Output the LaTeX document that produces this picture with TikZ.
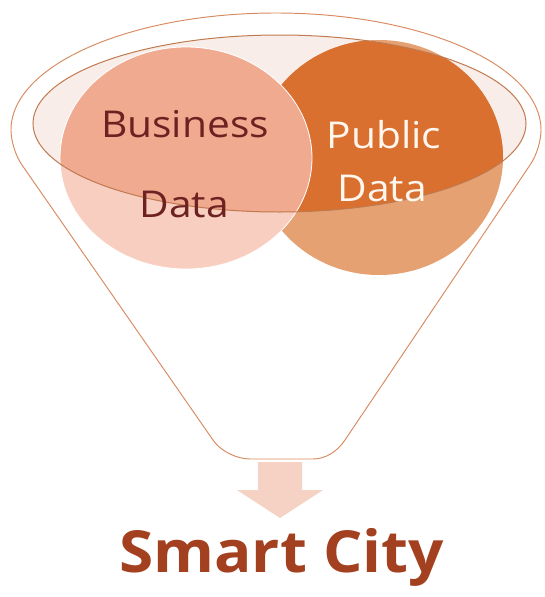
\documentclass[tikz,border=0pt]{standalone}
\usepackage{fontspec}
\setmainfont{Open Sans}
\newfontfamily\labelfont[FakeStretch=1.1]{Open Sans}
\newfontfamily\titlefont[FakeStretch=1.07]{Open Sans}
\definecolor{bizIn}{HTML}{F0AA8F}
\definecolor{bizOut}{HTML}{F7CEBF}
\definecolor{pubIn}{HTML}{D9702F}
\definecolor{pubOut}{HTML}{E5A171}
\definecolor{ellFill}{HTML}{F9EDE9}
\definecolor{funnelLine}{HTML}{D98B60}
\definecolor{rimLine}{HTML}{C07A50}
\definecolor{bizText}{HTML}{6E2121}
\definecolor{pubText}{HTML}{FFF6EE}
\definecolor{titleText}{HTML}{A3401F}
\definecolor{arrowFill}{HTML}{F6D2C5}
\tikzset{
  bizlabel/.style={anchor=base, text=bizText, font=\labelfont\fontsize{37}{40}\selectfont, inner sep=0pt},
  publabel/.style={anchor=base, text=pubText, font=\labelfont\fontsize{37}{40}\selectfont, inner sep=0pt},
  titlelabel/.style={anchor=base, text=titleText, font=\titlefont\bfseries\fontsize{58}{62}\selectfont, inner sep=0pt},
  outline/.style={draw=funnelLine, line width=0.95pt},
  rim/.style={draw=rimLine, line width=1pt}
}
\begin{document}
\begin{tikzpicture}[x=1pt,y=-1pt]
\useasboundingbox (0,0) rectangle (544,597);
\fill[white] (0,0) rectangle (544,597);
% rim interior
\fill[ellFill] (279.5,123.5) ellipse [x radius=246.5pt, y radius=88.5pt];
% circles, parts outside rim
\fill[pubOut] (379,157.5) ellipse [x radius=124pt, y radius=117.5pt];
\fill[bizOut, draw=white, line width=0.8pt] (186,158) ellipse [x radius=126pt, y radius=111pt];
% circles, parts inside rim
\begin{scope}
  \clip (279.5,123.5) ellipse [x radius=246.5pt, y radius=88.5pt];
  \fill[pubIn] (379,157.5) ellipse [x radius=124pt, y radius=117.5pt];
  \fill[bizIn, draw=white, line width=0.8pt] (186,158) ellipse [x radius=126pt, y radius=111pt];
\end{scope}
% rim outline
\draw[rim] (279.5,123.5) ellipse [x radius=246.5pt, y radius=88.5pt];
% funnel outline
\draw[outline] (22,165) .. controls (15,155) and (11,140) .. (11,130)
  arc [start angle=180, end angle=0, x radius=265pt, y radius=117pt]
  .. controls (541,140) and (537,155) .. (530,165)
  -- (345,440) .. controls (337,452) and (325,459) .. (313,459)
  -- (250,459) .. controls (238,459) and (221,452) .. (213,440)
  -- cycle;
% arrow
\fill[arrowFill] (258,462) -- (302,462) -- (302,490) -- (323,490) -- (280,518)
  -- (237,490) -- (258,490) -- cycle;
% labels
\node[bizlabel] (biz1) at (185,137) {Business};
\node[bizlabel] (biz2) at (184,217) {Data};
\node[publabel] (pub1) at (384,148) {Public};
\node[publabel] (pub2) at (382,201) {Data};
\node[titlelabel] (title) at (281.5,572) {Smart City};
\end{tikzpicture}
\end{document}
